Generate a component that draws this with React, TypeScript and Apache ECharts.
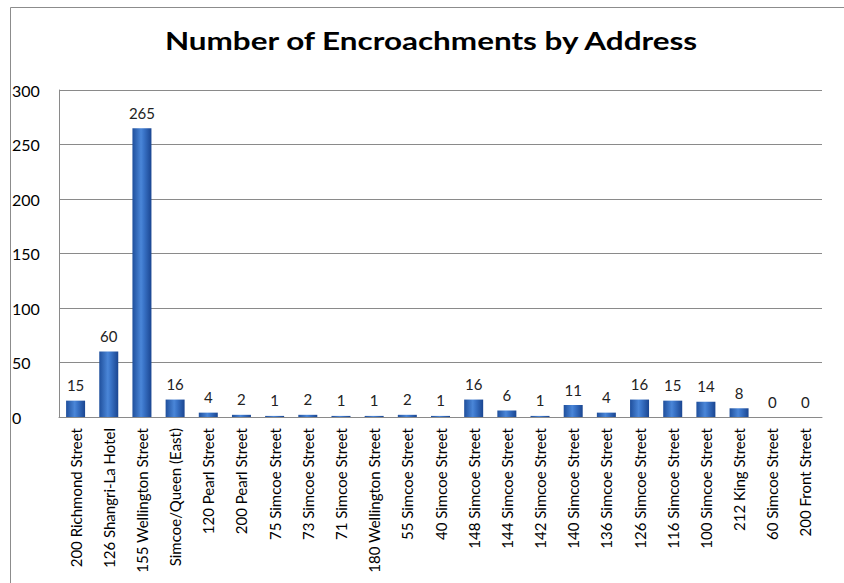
import React, { useEffect, useRef } from "react";
import * as echarts from "echarts";

const categories = [
  "200 Richmond Street",
  "126 Shangri-La Hotel",
  "155 Wellington Street",
  "Simcoe/Queen (East)",
  "120 Pearl Street",
  "200 Pearl Street",
  "75 Simcoe Street",
  "73 Simcoe Street",
  "71 Simcoe Street",
  "180 Wellington Street",
  "55 Simcoe Street",
  "40 Simcoe Street",
  "148 Simcoe Street",
  "144 Simcoe Street",
  "142 Simcoe Street",
  "140 Simcoe Street",
  "136 Simcoe Street",
  "126 Simcoe Street",
  "116 Simcoe Street",
  "100 Simcoe Street",
  "212 King Street",
  "60 Simcoe Street",
  "200 Front Street",
];

const encroachments = [15, 60, 265, 16, 4, 2, 1, 2, 1, 1, 2, 1, 16, 6, 1, 11, 4, 16, 15, 14, 8, 0, 0];

const yTicks = { min: 0, max: 300, interval: 50 };

const titleText = "Number of Encroachments by Address";

const FONT = "Lato, 'Open Sans', sans-serif";

export default function App() {
  const ref = useRef<HTMLDivElement>(null);
  useEffect(() => {
    if (!ref.current) return;
    const chart = echarts.init(ref.current, null, { renderer: "svg" });
    chart.setOption({
      animation: false,
      backgroundColor: "#ffffff",
      graphic: [
        {
          type: "rect",
          shape: { x: 10.5, y: 7.5, width: 840, height: 600 },
          style: { fill: "none", stroke: "#8c8c8c", lineWidth: 1 },
          silent: true,
        },
        {
          type: "text",
          x: 431,
          y: 41,
          scaleX: 1.31,
          style: {
            text: titleText,
            fontFamily: FONT,
            fontWeight: "bold",
            fontSize: 24,
            fill: "#000",
            align: "center",
            verticalAlign: "middle",
          },
          silent: true,
        },
      ],
      grid: { left: 59, right: 22, top: 90, bottom: 166 },
      xAxis: {
        type: "category",
        data: categories,
        axisLine: { show: true, lineStyle: { color: "#8a8a8a", width: 1 } },
        axisTick: { show: false },
        axisLabel: {
          rotate: 90,
          interval: 0,
          margin: 11,
          fontFamily: FONT,
          fontSize: 15,
          color: "#000",
        },
      },
      yAxis: {
        type: "value",
        min: yTicks.min,
        max: yTicks.max,
        interval: yTicks.interval,
        axisLine: { show: true, lineStyle: { color: "#8a8a8a", width: 1 } },
        axisTick: { show: false },
        splitLine: { show: true, lineStyle: { color: "#8a8a8a", width: 1 } },
        axisLabel: {
          align: "left",
          margin: 47,
          fontFamily: FONT,
          fontSize: 16,
          color: "#000",
        },
      },
      series: [
        {
          type: "bar",
          data: encroachments,
          barWidth: 19,
          itemStyle: {
            color: new echarts.graphic.LinearGradient(0, 0, 1, 0, [
              { offset: 0, color: "#1f4f9c" },
              { offset: 0.45, color: "#4a86d8" },
              { offset: 0.6, color: "#3a74c8" },
              { offset: 1, color: "#1a4590" },
            ]),
          },
          label: {
            show: true,
            position: "top",
            distance: 8,
            fontFamily: FONT,
            fontSize: 15,
            color: "#222",
          },
        },
      ],
    });
    return () => chart.dispose();
  }, []);
  return (
    <div
      ref={ref}
      style={{ position: "fixed", left: 0, top: 0, width: 844, height: 583 }}
    />
  );
}
